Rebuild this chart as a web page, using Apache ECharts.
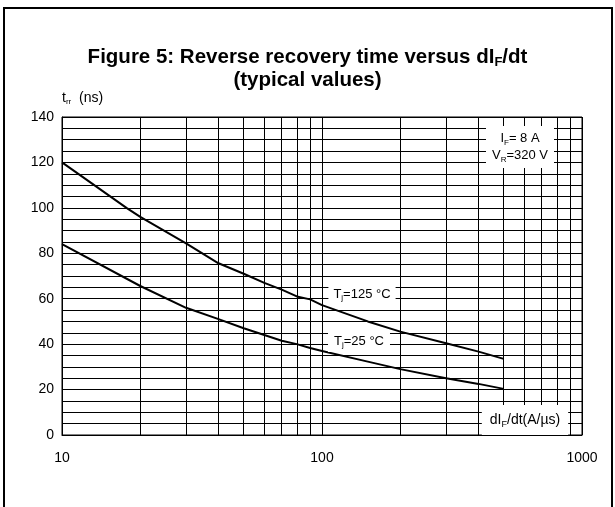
<!DOCTYPE html>
<html>
<head>
<meta charset="utf-8">
<script src="https://cdn.jsdelivr.net/npm/echarts@6/dist/echarts.min.js"></script>
<style>
  html, body { margin: 0; padding: 0; background: #fff; }
  #chart { width: 615px; height: 507px; }
</style>
</head>
<body>
<div id="chart"></div>
<script>
// dI/dt points (A/us) and trr (ns)
var hotX = [10, 17.7, 20, 30, 40, 50, 60, 70, 80, 90, 100, 150, 200, 300, 400, 500];
var hotY = [120, 100, 96, 84.4, 75.6, 71, 67, 64, 61, 59.7, 57.2, 50, 45.5, 40.4, 36.7, 33.5];
var coldX = [10, 20, 30, 40, 50, 60, 70, 80, 90, 100, 150, 200, 300, 400, 500];
var coldY = [84, 65.6, 56, 51, 47, 44, 41.5, 40, 38.3, 37, 32.3, 29, 25, 22.5, 20.3];

// log grid lines between decades
var minorTicksX = [20, 30, 40, 50, 60, 70, 80, 90, 200, 300, 400, 500, 600, 700, 800, 900];

function pairs(xs, ys) {
    return xs.map(function (x, i) { return [x, ys[i]]; });
}

var font = 'Liberation Sans, Arial, sans-serif';

function initChart() {
    var chart = echarts.init(document.getElementById('chart'));
    var option = {
        animation: false,
        title: {
            text: 'Figure 5: Reverse recovery time versus dI{s|F}/dt\n(typical values)',
            left: 'center',
            top: 41,
            textStyle: {
                fontFamily: font,
                fontSize: 20.5,
                fontWeight: 'bold',
                color: '#000',
                lineHeight: 23,
                rich: {
                    s: { fontFamily: font, fontSize: 13, fontWeight: 'bold', color: '#000', lineHeight: 21, verticalAlign: 'bottom' }
                }
            }
        },
        grid: {
            left: 62, right: 33, top: 117, bottom: 72,
            show: true, borderColor: '#000', borderWidth: 1
        },
        xAxis: {
            type: 'log',
            logBase: 10,
            min: 10,
            max: 1000,
            axisLine: { lineStyle: { color: '#000', width: 1 } },
            axisTick: { show: false },
            splitLine: { show: true, lineStyle: { color: '#000', width: 1 } },
            axisLabel: {
                margin: 16, fontFamily: font, fontSize: 14, color: '#000',
                formatter: function (v) { return String(Math.round(v)); }
            }
        },
        yAxis: {
            type: 'value',
            min: 0,
            max: 140,
            interval: 20,
            axisLine: { show: true, lineStyle: { color: '#000', width: 1 } },
            axisTick: { show: false },
            minorTick: { show: false, splitNumber: 4 },
            splitLine: { show: true, lineStyle: { color: '#000', width: 1 } },
            minorSplitLine: { show: true, lineStyle: { color: '#000', width: 1 } },
            axisLabel: { margin: 8, fontFamily: font, fontSize: 14, color: '#000' }
        },
        series: [
            {
                name: 'Tj=125',
                type: 'line',
                data: pairs(hotX, hotY),
                symbol: 'none',
                lineStyle: { color: '#000', width: 2 },
                markLine: {
                    silent: true,
                    symbol: ['none', 'none'],
                    label: { show: false },
                    lineStyle: { color: '#000', type: 'solid', width: 1 },
                    data: minorTicksX.map(function (v) { return { xAxis: v }; })
                }
            },
            {
                name: 'Tj=25',
                type: 'line',
                data: pairs(coldX, coldY),
                symbol: 'none',
                lineStyle: { color: '#000', width: 2 }
            }
        ],
        graphic: [
            {
                type: 'rect', z: 100,
                shape: { x: 4, y: 8, width: 608, height: 530 },
                style: { fill: 'none', stroke: '#000', lineWidth: 2 }
            },
            {
                type: 'text', z: 100, x: 62, y: 98,
                style: {
                    text: 't{s|rr}  (ns)', fill: '#000', font: '14px ' + font,
                    verticalAlign: 'middle', lineHeight: 16,
                    rich: { s: { fontSize: 8, fontFamily: font, lineHeight: 8, verticalAlign: 'bottom', fill: '#000' } }
                }
            },
            {
                type: 'text', z: 100, x: 520, y: 147,
                style: {
                    text: 'I{s|F}= 8 A\nV{s|R}=320 V', fill: '#000', font: '13px ' + font,
                    align: 'center', verticalAlign: 'middle', lineHeight: 17,
                    backgroundColor: '#fff', padding: [4, 6, 4, 6],
                    rich: { s: { fontSize: 8, fontFamily: font, lineHeight: 8, verticalAlign: 'bottom', fill: '#000' } }
                }
            },
            {
                type: 'text', z: 100, x: 362, y: 294,
                style: {
                    text: 'T{s|j}=125 °C', fill: '#000', font: '13px ' + font,
                    align: 'center', verticalAlign: 'middle', lineHeight: 16,
                    backgroundColor: '#fff', padding: [3, 5, 3, 5],
                    rich: { s: { fontSize: 8, fontFamily: font, lineHeight: 8, verticalAlign: 'bottom', fill: '#000' } }
                }
            },
            {
                type: 'text', z: 100, x: 359, y: 341,
                style: {
                    text: 'T{s|j}=25 °C', fill: '#000', font: '13px ' + font,
                    align: 'center', verticalAlign: 'middle', lineHeight: 16,
                    backgroundColor: '#fff', padding: [3, 6, 3, 6],
                    rich: { s: { fontSize: 8, fontFamily: font, lineHeight: 8, verticalAlign: 'bottom', fill: '#000' } }
                }
            },
            {
                type: 'text', z: 100, x: 525, y: 420,
                style: {
                    text: 'dI{f|F}/dt(A/µs)', fill: '#000', font: '14px ' + font,
                    align: 'center', verticalAlign: 'middle', lineHeight: 18,
                    backgroundColor: '#fff', padding: [6, 8, 6, 8],
                    rich: { f: { fontSize: 9, fontFamily: font, lineHeight: 16, verticalAlign: 'bottom', fill: '#000' } }
                }
            }
        ]
    };
    chart.setOption(option);
}

initChart();
</script>
</body>
</html>
